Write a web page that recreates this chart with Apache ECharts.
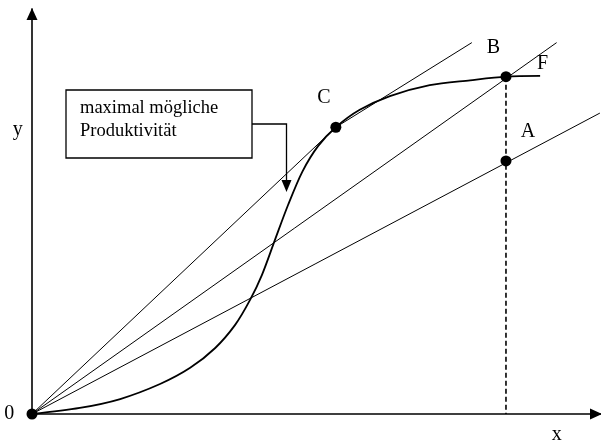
<!DOCTYPE html>
<html>
<head>
<meta charset="utf-8">
<script src="https://cdn.jsdelivr.net/npm/echarts@6/dist/echarts.min.js"></script>
<style>
html, body { margin: 0; padding: 0; background: #fff; }
#main { width: 601px; height: 445px; }
</style>
</head>
<body>
<div id="main"></div>
<script>
// points (x and y both 0..100)
const origin = [0, 0]
const pointC = [53.4, 70.8]
const pointB = [83.3, 83.3]
const pointA = [83.3, 62.5]
const tangentEnd = [77.3, 91.7]
const rayBEnd = [92.2, 91.7]
const rayAEnd = [99.8, 74.3]

// production curve F
const curveF = [
  [0, 0], [8.4, 1.5], [15.5, 3.7], [22.5, 7.4], [27.8, 11.4], [32.2, 16.3],
  [35.7, 22.0], [38.3, 28.1], [40.4, 34.3], [42.7, 43.0], [45.0, 51.6],
  [47.5, 59.8], [50.3, 66.2], [53.4, 70.8], [57.6, 75.1], [62.9, 78.5],
  [69.9, 81.2], [77.0, 82.4], [83.3, 83.3], [89.3, 83.5]
]

const pointLabels = ['', 'C', 'B', 'A']
const curveLabel = 'F'
const boxLines = ['maximal mögliche', 'Produktivität']
const axisNames = { x: 'x', y: 'y', zero: '0' }

const font = 'Liberation Serif, Times New Roman, serif'
const black = '#000'

const chart = echarts.init(document.getElementById('main'), null, { renderer: 'canvas' })

function thinLine(data, width, type) {
  return {
    type: 'line',
    data: data,
    showSymbol: false,
    silent: true,
    animation: false,
    lineStyle: { color: black, width: width, type: type || 'solid', opacity: 1 },
    z: 3
  }
}

function axisStyle() {
  return {
    type: 'value',
    min: 0,
    max: 100,
    splitLine: { show: false },
    axisTick: { show: false },
    axisLabel: { show: false },
    axisLine: {
      show: true,
      onZero: false,
      symbol: ['none', 'triangle'],
      symbolSize: [11, 12],
      symbolOffset: [0, -5],
      lineStyle: { color: black, width: 1.6 }
    }
  }
}

const labelOffsets = [[0, 0], [-12, -30], [-12.5, -28.7], [22, -29]]

const dots = [origin, pointC, pointB, pointA].map(function (p, i) {
  return {
    value: p,
    label: {
      show: pointLabels[i] !== '',
      formatter: pointLabels[i],
      position: 'inside',
      offset: labelOffsets[i]
    }
  }
})
// F sits next to the end of the curve, no dot
dots.push({
  value: curveF[curveF.length - 1],
  symbolSize: 0,
  label: { show: true, formatter: curveLabel, position: 'inside', offset: [2.5, -12] }
})

const option = {
  animation: false,
  backgroundColor: '#fff',
  grid: { left: 32, top: 9, right: 0, bottom: 31, containLabel: false },
  xAxis: axisStyle(),
  yAxis: axisStyle(),
  series: [
    thinLine([origin, pointC, tangentEnd], 1),
    thinLine([origin, rayBEnd], 1),
    thinLine([origin, rayAEnd], 1),
    thinLine([pointB, [pointB[0], 0]], 1.6, [5, 3]),
    Object.assign(thinLine(curveF, 1.8), { smooth: 0.3 }),
    {
      type: 'scatter',
      data: dots,
      symbol: 'circle',
      symbolSize: 11,
      silent: true,
      itemStyle: { color: black, opacity: 1 },
      label: { color: black, fontFamily: font, fontSize: 20 },
      z: 5
    }
  ],
  graphic: [
    {
      type: 'rect',
      shape: { x: 66, y: 90, width: 186, height: 68 },
      style: { fill: '#fff', stroke: black, lineWidth: 1.3 },
      z: 10
    },
    {
      type: 'text', x: 80, y: 108.5, z: 11,
      style: { text: boxLines[0], font: '18.5px ' + font, fill: black, align: 'left', verticalAlign: 'middle' }
    },
    {
      type: 'text', x: 80, y: 131.5, z: 11,
      style: { text: boxLines[1], font: '18.5px ' + font, fill: black, align: 'left', verticalAlign: 'middle' }
    },
    {
      type: 'polyline',
      shape: { points: [[252, 124], [286.5, 124], [286.5, 182]] },
      style: { stroke: black, lineWidth: 1.3, fill: null },
      z: 10
    },
    {
      type: 'polygon',
      shape: { points: [[281.5, 180], [291.5, 180], [286.5, 192]] },
      style: { fill: black },
      z: 10
    },
    {
      type: 'text', x: 9.2, y: 413.5, z: 11,
      style: { text: axisNames.zero, font: '20px ' + font, fill: black, align: 'center', verticalAlign: 'middle' }
    },
    {
      type: 'text', x: 556.7, y: 435, z: 11,
      style: { text: axisNames.x, font: '20px ' + font, fill: black, align: 'center', verticalAlign: 'middle' }
    },
    {
      type: 'text', x: 17.7, y: 129.5, z: 11,
      style: { text: axisNames.y, font: '20px ' + font, fill: black, align: 'center', verticalAlign: 'middle' }
    }
  ]
}

chart.setOption(option)
</script>
</body>
</html>
